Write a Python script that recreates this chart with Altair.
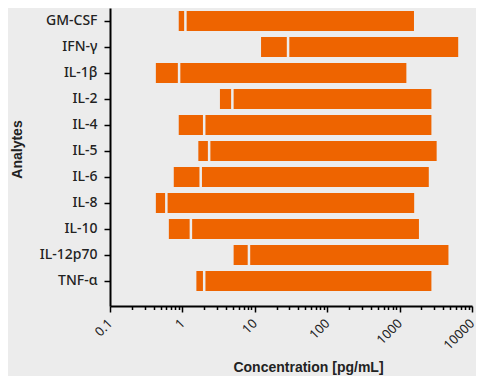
import altair as alt
import pandas as pd

analytes = ["GM-CSF", "IFN-γ", "IL-1β", "IL-2", "IL-4", "IL-5", "IL-6", "IL-8", "IL-10", "IL-12p70", "TNF-α"]
lod = [0.89, 12.2, 0.43, 3.3, 0.89, 1.66, 0.76, 0.43, 0.65, 5.1, 1.56]
lloq = [1.10, 28.8, 0.90, 4.9, 2.0, 2.34, 1.79, 0.60, 1.31, 8.3, 2.0]
uloq = [1580, 6450, 1240, 2750, 2750, 3250, 2530, 1590, 1850, 4730, 2750]

major_ticks = [0.1, 1, 10, 100, 1000, 10000]
minor_ticks = [d * k for d in [0.1, 1, 10, 100, 1000] for k in range(2, 10)]

df = pd.DataFrame({"analyte": analytes, "lod": lod, "lloq": lloq, "uloq": uloq})

BG = "#ECECEC"
ORANGE = "#EE6400"
major_test = "indexof([0.1,1,10,100,1000,10000], datum.value) >= 0"

x_scale = alt.Scale(type="log", domain=[0.1, 10000], nice=False)
y_scale = alt.Scale(domain=analytes, paddingInner=0.23, paddingOuter=0.346, align=0.167)

x_axis = alt.Axis(
    values=major_ticks + minor_ticks,
    format="~g",
    labelExpr=f"{major_test} ? datum.label : ''",
    labelOverlap=False,
    labelFlush=False,
    tickSize={"condition": {"test": major_test, "value": 6}, "value": 3.5},
    tickWidth=1.5,
    tickColor="black",
    domainColor="black",
    domainWidth=2,
    labelAngle=315,
    labelAlign="right",
    labelBaseline="middle",
    labelFont="Noto Sans",
    labelFontSize=13,
    labelColor="#222222",
    labelPadding=9,
    grid=False,
    title="Concentration [pg/mL]",
    titleFont="Liberation Sans",
    titleFontSize=14,
    titleFontWeight="bold",
    titleColor="#222222",
    titleX=198,
    titleY=61,
    titleAlign="center",
    titleBaseline="middle",
)

y_axis = alt.Axis(
    tickSize=6,
    tickWidth=1.5,
    tickColor="black",
    domainColor="black",
    domainWidth=2,
    labelFont="Noto Sans",
    labelFontSize=14,
    labelFontWeight=500,
    labelColor="#222222",
    labelPadding=7,
    grid=False,
    title="Analytes",
    titleFont="Liberation Sans",
    titleFontSize=14,
    titleFontWeight="bold",
    titleColor="#222222",
    titleAngle=270,
    titleX=-93,
    titleY=141,
    titleAlign="center",
    titleBaseline="middle",
)

bars = alt.Chart(df).mark_bar(color=ORANGE).encode(
    x=alt.X("lod:Q", scale=x_scale, axis=x_axis),
    x2="uloq:Q",
    y=alt.Y("analyte:N", scale=y_scale, axis=y_axis, sort=analytes),
)

gaps = alt.Chart(df).mark_tick(color=BG, thickness=2.5, size=21, opacity=1).encode(
    x=alt.X("lloq:Q", scale=x_scale),
    y=alt.Y("analyte:N", scale=y_scale, sort=analytes),
)

chart = (
    alt.layer(bars, gaps)
    .properties(
        width=362,
        height=298,
        background=BG,
        padding={"left": 102, "top": 0, "right": 4, "bottom": 70},
        autosize=alt.AutoSizeParams(type="none"),
    )
    .configure_view(stroke=None)
)

chart.save("out.html", embed_options={"renderer": "svg", "actions": False})
